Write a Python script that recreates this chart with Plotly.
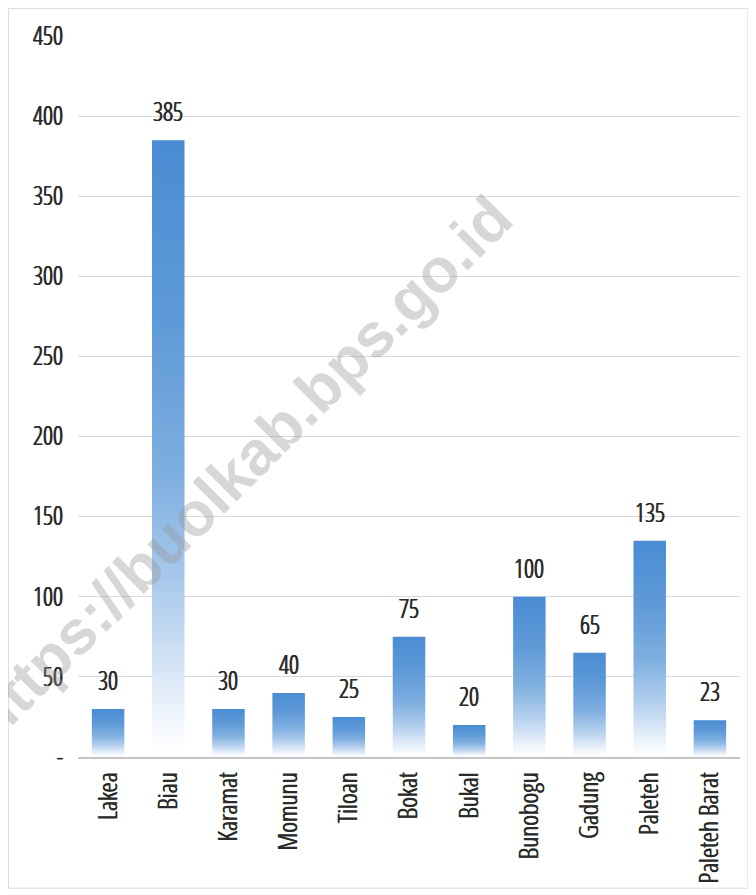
import plotly.graph_objects as go

categories = ["Lakea", "Biau", "Karamat", "Momunu", "Tiloan", "Bokat", "Bukal",
              "Bunobogu", "Gadung", "Paleteh", "Paleteh Barat"]
values = [30, 385, 30, 40, 25, 75, 20, 100, 65, 135, 23]
y_ticks = [0, 50, 100, 150, 200, 250, 300, 350, 400, 450]
y_ticktext = ["-", "50", "100", "150", "200", "250", "300", "350", "400", "450"]

FONT = "Open Sans Condensed Light, Roboto Condensed, sans-serif"
TXT = "#2a2a2a"
SHADOW = "0.6px 0 0 #2a2a2a, -0.4px 0 0 #2a2a2a"
half_w = 0.27
gradient = [[0.0, "rgba(255,255,255,1)"], [0.06, "#f1f6fc"], [0.25, "#b3cfee"],
            [0.45, "#7fafe0"], [0.7, "#5f9ad8"], [1.0, "#4a8cd3"]]

fig = go.Figure()
for i, (c, v) in enumerate(zip(categories, values)):
    fig.add_trace(go.Scatter(
        x=[i - half_w, i + half_w, i + half_w, i - half_w, i - half_w],
        y=[0, 0, v, v, 0],
        fill="toself", mode="lines", line=dict(width=0),
        fillgradient=dict(type="vertical", colorscale=gradient),
        hoverinfo="skip", showlegend=False, name=c))
    fig.add_annotation(x=i, y=v, text=str(v), showarrow=False, yanchor="bottom",
                       yshift=10, font=dict(family=FONT, size=25, color=TXT, shadow=SHADOW))

# watermark
fig.add_annotation(xref="paper", yref="paper", x=0.245, y=0.401, xanchor="center", yanchor="middle",
                   text="<b>https://buolkab.bps.go.id</b>", showarrow=False,
                   textangle=-45, font=dict(family="Liberation Sans, Arial, sans-serif", size=62,
                                            color="rgba(150,150,150,0.38)"))

# frame
fig.add_shape(type="rect", xref="paper", yref="paper", x0=-0.105, x1=1.012, y0=-0.182, y1=1.038,
              line=dict(color="#dcdcdc", width=1), layer="below")

fig.update_layout(
    width=748, height=887,
    margin=dict(l=70, r=16, t=28, b=138),
    paper_bgcolor="white", plot_bgcolor="white",
    font=dict(family=FONT, size=24, color=TXT),
    xaxis=dict(range=[-0.5, 10.5], tickvals=list(range(len(categories))), ticktext=categories,
               tickangle=-90, showgrid=False, zeroline=False, showline=True, automargin=False,
               linecolor="#c4c4c4", linewidth=2, ticks="", ticklabelstandoff=3,
               tickfont=dict(family=FONT, size=26, color=TXT, shadow=SHADOW), fixedrange=True),
    yaxis=dict(range=[0, 450], tickvals=y_ticks, ticktext=y_ticktext, automargin=False,
               showgrid=True, gridcolor="#d9d9d9", gridwidth=1, zeroline=False,
               ticks="", ticklabelstandoff=14,
               tickfont=dict(family=FONT, size=25, color=TXT, shadow=SHADOW), fixedrange=True),
)

fig.write_html("out.html")
